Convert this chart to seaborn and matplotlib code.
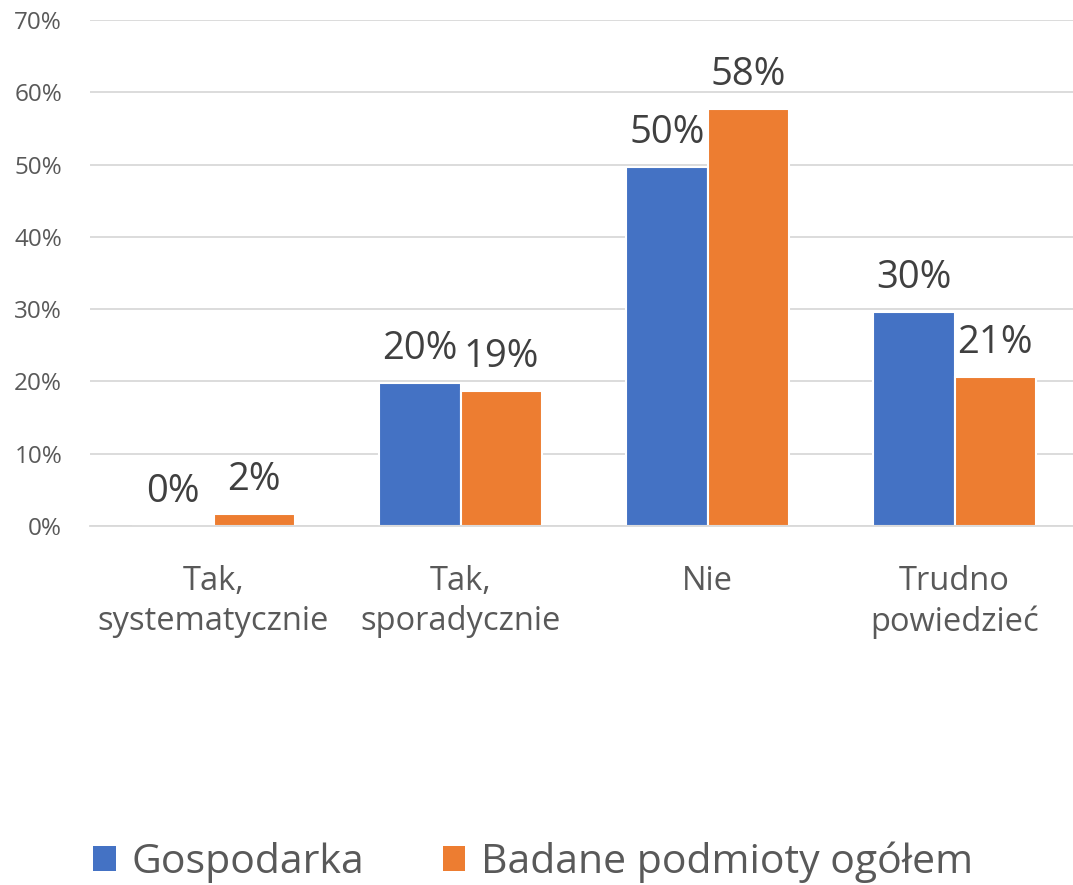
import matplotlib
matplotlib.use("Agg")
import matplotlib.pyplot as plt
import seaborn as sns
import pandas as pd
from matplotlib.patches import Patch

categories = ["Tak,\nsystematycznie", "Tak,\nsporadycznie", "Nie", "Trudno\npowiedzieć"]
series_names = ["Gospodarka", "Badane podmioty ogółem"]
gospodarka = [0.0, 19.8, 49.7, 29.6]
badane = [1.7, 18.7, 57.7, 20.6]
y_ticks = [0, 10, 20, 30, 40, 50, 60, 70]
colors = ["#4472C4", "#ED7D31"]

df = pd.DataFrame({
    "cat": categories * 2,
    "series": [series_names[0]] * 4 + [series_names[1]] * 4,
    "val": gospodarka + badane,
})

sns.set_theme(style="white")
plt.rcParams["font.family"] = ["Open Sans", "DejaVu Sans"]

fig = plt.figure(figsize=(10.73, 8.85), dpi=100)
ax = fig.add_axes([90 / 1073, 1 - 526 / 885, 988 / 1073, 506 / 885])

sns.barplot(data=df, x="cat", y="val", hue="series", order=categories,
            hue_order=series_names, palette=colors, width=0.66,
            edgecolor="white", linewidth=1.5, ax=ax, legend=False,
            saturation=1)

ax.set_ylim(0, 70)
ax.set_xlim(-0.5, 3.5)
ax.set_yticks(y_ticks)
ax.set_yticklabels([f"{t}%" for t in y_ticks], fontsize=17.5, color="#595959")
ax.tick_params(axis="y", length=0, pad=20)
ax.set_xlabel("")
ax.set_ylabel("")
ax.tick_params(axis="x", length=0, pad=28, labelsize=23.5, labelcolor="#595959")
for lab in ax.get_xticklabels():
    lab.set_linespacing(1.3)
ax.set_xticks([-0.5, 0.5, 1.5, 2.5, 3.5], minor=True)
ax.tick_params(axis="x", which="minor", length=10, width=1.3, color="#D9D9D9")

ax.yaxis.grid(True, color="#D9D9D9", linewidth=1.3)
ax.set_axisbelow(True)
for s in ["left", "right", "top"]:
    ax.spines[s].set_visible(False)
ax.spines["bottom"].set_color("#D9D9D9")
ax.spines["bottom"].set_linewidth(1.3)

for container in ax.containers:
    for bar in container:
        h = bar.get_height()
        ax.annotate(f"{h:.0f}%", (bar.get_x() + bar.get_width() / 2, h),
                    xytext=(0, 17), textcoords="offset points",
                    ha="center", va="baseline", fontsize=27.5, color="#404040")

handles = [Patch(facecolor=c, edgecolor="none") for c in colors]
fig.legend(handles, series_names, loc="center", bbox_to_anchor=(0.497, 1 - 862 / 885),
           ncol=2, frameon=False, fontsize=29.5, handlelength=0.55, handleheight=0.55,
           handletextpad=0.4, columnspacing=1.9, labelcolor="#595959")

fig.savefig("out.png", dpi=100)
